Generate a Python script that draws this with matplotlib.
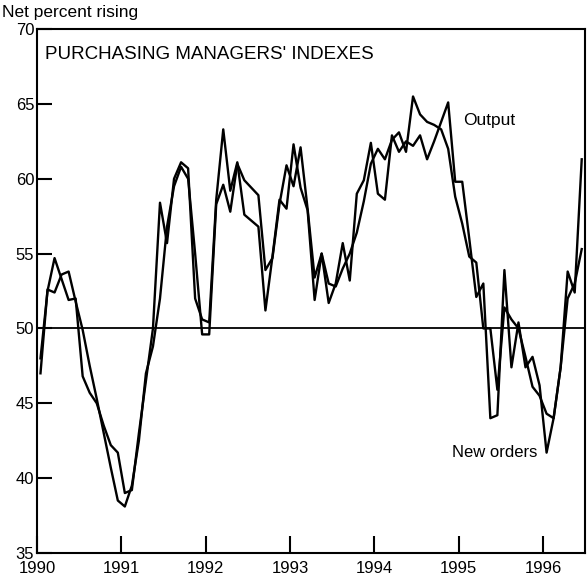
import numpy as np
import matplotlib.pyplot as plt

plt.rcParams['font.family'] = ['Liberation Sans', 'DejaVu Sans']

# monthly values, Jan 1990 - Jun 1996
new_orders = [
    48.0, 52.5, 54.7, 53.3, 51.9, 52.0, 46.8, 45.7, 45.0, 43.5, 42.2, 41.7,   # 1990
    39.0, 39.2, 43.0, 46.5, 50.0, 58.4, 55.7, 60.0, 61.1, 60.7, 52.0, 50.6,   # 1991
    50.4, 58.6, 63.3, 59.2, 61.1, 57.6, 57.2, 56.8, 51.2, 54.8, 58.6, 58.0,   # 1992
    62.3, 59.4, 57.9, 51.9, 55.0, 51.7, 53.0, 55.7, 53.2, 59.0, 59.9, 62.4,   # 1993
    59.0, 58.6, 62.9, 61.8, 62.5, 62.2, 62.9, 61.3, 62.5, 63.8, 65.1, 59.8,   # 1994
    59.8, 56.0, 52.1, 53.0, 44.0, 44.2, 53.9, 47.4, 50.4, 47.4, 48.1, 46.2,   # 1995
    41.7, 44.0, 47.4, 53.8, 52.4, 61.3,                                       # 1996
]
output = [
    47.0, 52.6, 52.4, 53.6, 53.8, 51.8, 49.9, 47.5, 45.3, 43.0, 40.7, 38.5,   # 1990
    38.1, 39.5, 42.5, 47.0, 48.8, 52.0, 56.8, 59.5, 60.8, 60.0, 55.0, 49.6,   # 1991
    49.6, 58.3, 59.6, 57.8, 61.0, 59.9, 59.4, 58.9, 53.9, 54.7, 58.3, 60.9,   # 1992
    59.5, 62.1, 58.0, 53.4, 55.0, 53.0, 52.8, 54.0, 55.0, 56.4, 58.5, 61.0,   # 1993
    62.0, 61.3, 62.6, 63.1, 61.8, 65.5, 64.3, 63.8, 63.6, 63.3, 62.0, 58.8,   # 1994
    57.0, 54.8, 54.4, 50.0, 50.0, 45.9, 51.4, 50.6, 50.0, 48.1, 46.1, 45.5,   # 1995
    44.3, 44.0, 47.4, 52.0, 53.0, 55.3,                                       # 1996
]
years = [1990, 1991, 1992, 1993, 1994, 1995, 1996]
yticks = [35, 40, 45, 50, 55, 60, 65, 70]

x = 1990 + (np.arange(len(output)) + 0.5) / 12

fig = plt.figure(figsize=(5.87, 5.82), dpi=100)
ax = fig.add_axes([0.063, 0.050, 0.934, 0.900])

ax.plot(x, new_orders, color='black', lw=1.7)
ax.plot(x, output, color='black', lw=1.7)
ax.axhline(50, color='black', lw=1.3)

ax.set_xlim(1990, 1996.5)
ax.set_ylim(35, 70)
ax.set_xticks(years)
ax.set_yticks(yticks)
ax.tick_params(axis='both', direction='in', labelsize=12, width=1.5, color='black')
ax.tick_params(axis='y', length=11, pad=2)
ax.tick_params(axis='x', length=12, pad=6)
for s in ax.spines.values():
    s.set_linewidth(1.5)

ax.text(1990.1, 68.3, "PURCHASING MANAGERS' INDEXES", fontsize=13.5,
        va='center', ha='left')
ax.text(1995.05, 63.9, 'Output', fontsize=12.5, va='center', ha='left')
ax.text(1994.92, 41.7, 'New orders', fontsize=12, va='center', ha='left')
fig.text(0.004, 0.978, 'Net percent rising', fontsize=12.5, va='center', ha='left')

fig.savefig('out.png', dpi=100)
